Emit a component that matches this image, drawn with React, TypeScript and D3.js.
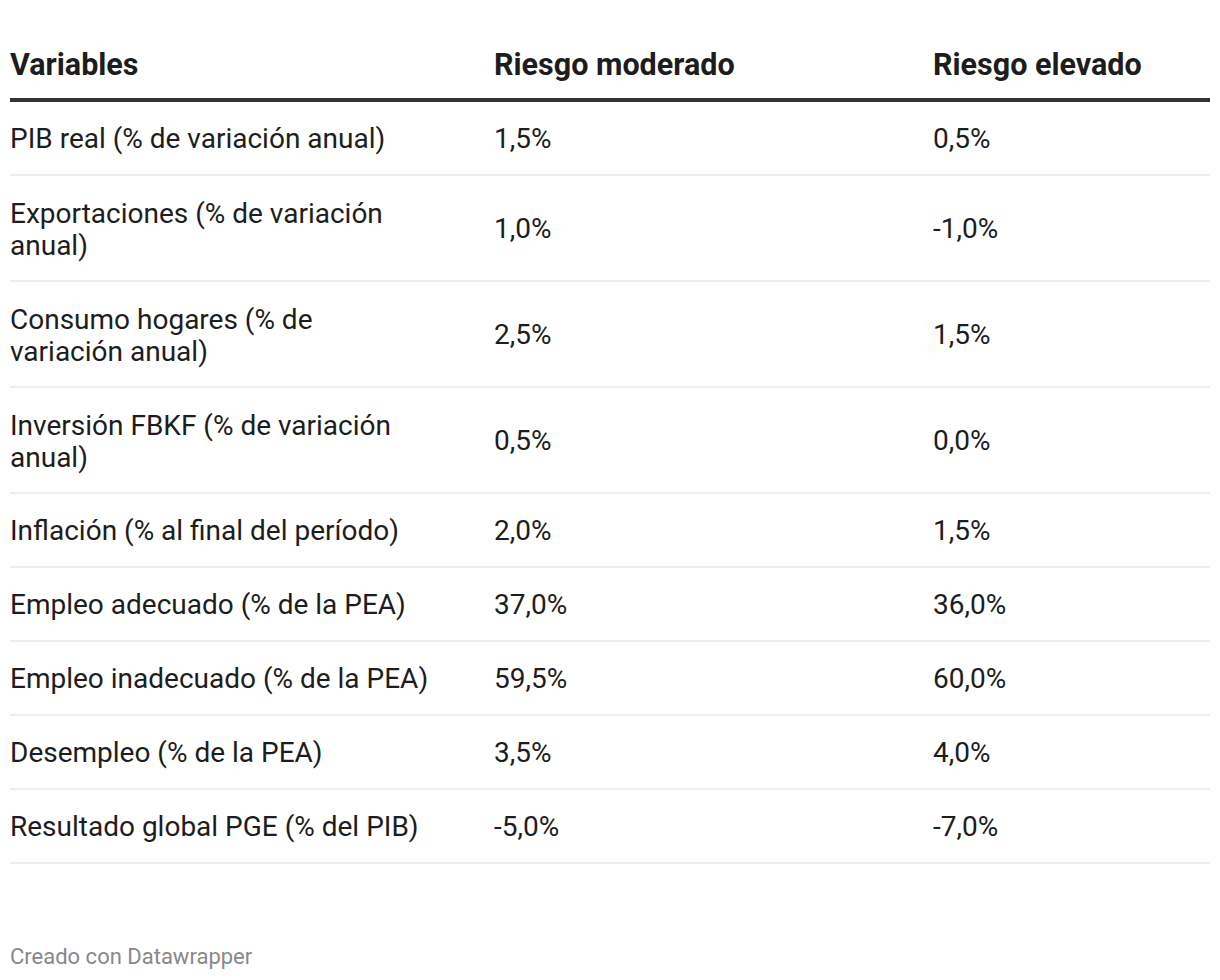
import React from "react";
import * as d3 from "d3";

const columns = ["Variables", "Riesgo moderado", "Riesgo elevado"];
const variables = [
  ["PIB real (% de variación anual)"],
  ["Exportaciones (% de variación", "anual)"],
  ["Consumo hogares (% de", "variación anual)"],
  ["Inversión FBKF (% de variación", "anual)"],
  ["Inflación (% al final del período)"],
  ["Empleo adecuado (% de la PEA)"],
  ["Empleo inadecuado (% de la PEA)"],
  ["Desempleo (% de la PEA)"],
  ["Resultado global PGE (% del PIB)"],
];
const moderado = [1.5, 1.0, 2.5, 0.5, 2.0, 37.0, 59.5, 3.5, -5.0];
const elevado = [0.5, -1.0, 1.5, 0.0, 1.5, 36.0, 60.0, 4.0, -7.0];
const footer = "Creado con Datawrapper";

const W = 1220;
const H = 980;
const FONT = "Roboto, sans-serif";
const fmt = (v: number) => d3.format(".1f")(v).replace(".", ",").replace("−", "-") + "%";

export default function App() {
  const colX = [10, 494, 933];
  const left = 10;
  const right = 1210;
  const headerLineY = 101;
  const lineH = 32;
  const baseRowH = 74;
  const heights = variables.map((l) => baseRowH + (l.length - 1) * lineH);
  const tops = [headerLineY, ...d3.cumsum(heights).map((c) => headerLineY + c)];
  const values = [moderado, elevado];

  return (
    <svg width={W} height={H} style={{ position: "absolute", left: 0, top: 0, background: "#fff" }}>
      <rect x={0} y={0} width={W} height={H} fill="#fff" />
      {columns.map((c, i) => (
        <text key={c} x={colX[i]} y={74.5} fontFamily={FONT} fontWeight={700} fontSize={30.5} fill="#1d1d1d">
          {c}
        </text>
      ))}
      <rect x={left} y={98} width={right - left} height={4} fill="#333" />
      {variables.map((lines, r) => {
        const top = tops[r];
        const h = heights[r];
        const cy = top + h / 2;
        const firstY = cy - ((lines.length - 1) * lineH) / 2 + (lines.length > 1 ? 1 : 0);
        return (
          <g key={r}>
            {lines.map((ln, k) => (
              <text key={k} x={colX[0]} y={firstY + k * lineH} dy="0.36em" fontFamily={FONT} fontSize={28} fill="#1d1d1d">
                {ln}
              </text>
            ))}
            {values.map((vs, j) => (
              <text key={j} x={colX[j + 1]} y={cy} dy="0.36em" fontFamily={FONT} fontSize={28} fill="#1d1d1d">
                {fmt(vs[r])}
              </text>
            ))}
            <rect x={left} y={top + h - 1} width={right - left} height={2} fill="#eeeeee" />
          </g>
        );
      })}
      <text x={10} y={964} fontFamily={FONT} fontSize={22} fill="#888">
        {footer}
      </text>
    </svg>
  );
}
